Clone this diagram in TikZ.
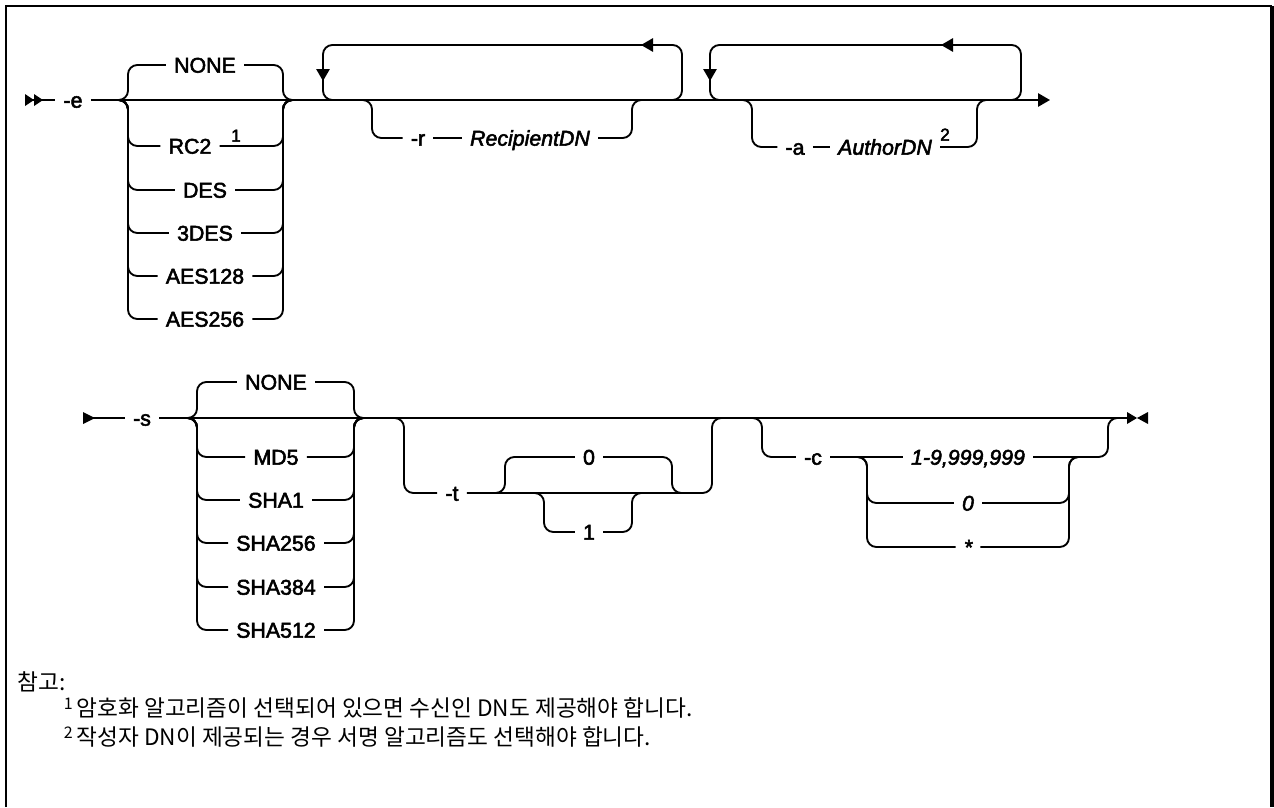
\documentclass[tikz,border=0pt]{standalone}
\usepackage{fontspec}
\setmainfont{Liberation Sans}
\newfontfamily\railfont{Liberation Sans}[FakeBold=2.5]
\newfontfamily\krfont{Noto Sans CJK KR}
\usetikzlibrary{arrows.meta}

\begin{document}
\begin{tikzpicture}[x=0.75pt, y=-0.75pt, line width=1.4pt,
    every node/.style={font=\railfont\fontsize{16}{19}\selectfont, inner xsep=5.5pt, inner ysep=0pt, text height=11.5pt, text depth=0pt},
    rail/.style={rounded corners=7pt},
    var/.style={font=\railfont\fontsize{16}{19}\selectfont\itshape},
    fn/.style={font=\railfont\fontsize{13}{15}\selectfont, inner sep=0pt},
    note/.style={font=\krfont\fontsize{17}{20}\selectfont, anchor=west, inner sep=0pt, text height=, text depth=},
    >={Triangle[length=9pt,width=10pt]}]
  \useasboundingbox (0,0) rectangle (1274,807);
  \draw[line width=1.5pt] (6,807) -- (6,6) -- (1272,6);
  \draw[line width=2.5pt] (1272,6) -- (1272,807);

  % first line: -e
  \coordinate (start1) at (25,100);
  \coordinate (end1) at (1050,100);
  \node (e) at (73,100) {-e};
  \fill (start1) ++(0,-6) -- ++(9,6) -- ++(-9,6) -- cycle;
  \fill (start1) ++(9,-6) -- ++(9,6) -- ++(-9,6) -- cycle;
  \draw (start1) -- (e);
  \draw[->] (e) -- (end1);

  % encryption algorithm
  \coordinate (g1in) at (118,100);
  \coordinate (g1out) at (293,100);
  \node (enc0) at (205,65) {NONE};
  \node (enc1) at (190,146) {RC2};
  \node[fn] (fn1) at (236,134) {1};
  \node (enc2) at (205,190) {DES};
  \node (enc3) at (205,233) {3DES};
  \node (enc4) at (205,276) {AES128};
  \node (enc5) at (205,319) {AES256};
  \foreach \n/\y in {enc0/65,enc1/146,enc2/190,enc3/233,enc4/276,enc5/319}{
    \draw[rail] (g1in) -| (128,\y) -- (\n);
    \draw[rail] (\n) -| (283,100) -- (g1out);
  }

  % repeat -r
  \draw[rail] (672,100) -| (682,45) -- (323,45) -- (323,100) -- (333,100);
  \draw[->] (323,66) -- (323,81);
  \draw[->] (657,45) -- (641,45);
  \coordinate (rin) at (362,100);
  \coordinate (rout) at (642,100);
  \node (r) at (418,138) {-r};
  \node[var] (rdn) at (530,138) {RecipientDN};
  \draw[rail] (rin) -| (372,138) -- (r);
  \draw (r) -- (rdn);
  \draw[rail] (rdn) -| (632,100) -- (rout);

  % repeat -a
  \draw[rail] (1011,100) -| (1021,45) -- (710,45) -- (710,100) -- (720,100);
  \draw[->] (710,66) -- (710,81);
  \draw[->] (957,45) -- (941,45);
  \coordinate (ain) at (742,100);
  \coordinate (aout) at (987,100);
  \node (a) at (795,147) {-a};
  \node[var] (adn) at (885,147) {AuthorDN};
  \node[fn] (fn2) at (945,133) {2};
  \draw[rail] (ain) -| (752,147) -- (a);
  \draw (a) -- (adn);
  \draw[rail] (adn) -| (977,100) -- (aout);

  % second line: -s
  \coordinate (start2) at (83,418);
  \coordinate (end2) at (1127,418);
  \node (s) at (142,418) {-s};
  \fill (start2) ++(0,-6) -- ++(12,6) -- ++(-12,6) -- cycle;
  \draw (start2) -- (s);
  \draw (s) -- (end2);
  \fill (end2) ++(0,-6) -- ++(10,6) -- ++(-10,6) -- cycle;
  \fill (end2) ++(21,-6) -- ++(-11,6) -- ++(11,6) -- cycle;

  % signing algorithm
  \coordinate (g2in) at (187,418);
  \coordinate (g2out) at (364,418);
  \node (sig0) at (276,382) {NONE};
  \node (sig1) at (276,457) {MD5};
  \node (sig2) at (276,500) {SHA1};
  \node (sig3) at (276,543) {SHA256};
  \node (sig4) at (276,587) {SHA384};
  \node (sig5) at (276,630) {SHA512};
  \foreach \n/\y in {sig0/382,sig1/457,sig2/500,sig3/543,sig4/587,sig5/630}{
    \draw[rail] (g2in) -| (197,\y) -- (\n);
    \draw[rail] (\n) -| (354,418) -- (g2out);
  }

  % -t
  \node (t) at (452,493) {-t};
  \node (t0) at (589,457) {0};
  \node (t1) at (589,532) {1};
  \draw[rail] (394,418) -| (404,493) -- (t);
  \draw[rail] (t) -| (712,418) -- (722,418);
  \draw[rail] (495,493) -| (505,457) -- (t0);
  \draw[rail] (t0) -| (672,493) -- (682,493);
  \draw[rail] (534,493) -| (544,532) -- (t1);
  \draw[rail] (t1) -| (632,493) -- (642,493);

  % -c
  \node (c) at (813,457) {-c};
  \node[var] (cv1) at (968,457) {1-9,999,999};
  \node[var] (cv2) at (968,503) {0};
  \node[var] (cv3) at (968,547) {*};
  \draw[rail] (752,418) -| (762,457) -- (c);
  \draw (c) -- (cv1);
  \draw[rail] (cv1) -| (1108,418) -- (1118,418);
  \foreach \n/\y in {cv2/503,cv3/547}{
    \draw[rail] (857,457) -| (867,\y) -- (\n);
    \draw[rail] (\n) -| (1069,457) -- (1079,457);
  }

  % notes
  \node[note] (notehd) at (17,682) {참고:};
  \node[note] (note1) at (63,708) {\raisebox{0.55ex}{\fontsize{12}{14}\selectfont 1}\,암호화 알고리즘이 선택되어 있으면 수신인 DN도 제공해야 합니다.};
  \node[note] (note2) at (63,737) {\raisebox{0.55ex}{\fontsize{12}{14}\selectfont 2}\,작성자 DN이 제공되는 경우 서명 알고리즘도 선택해야 합니다.};
\end{tikzpicture}
\end{document}
